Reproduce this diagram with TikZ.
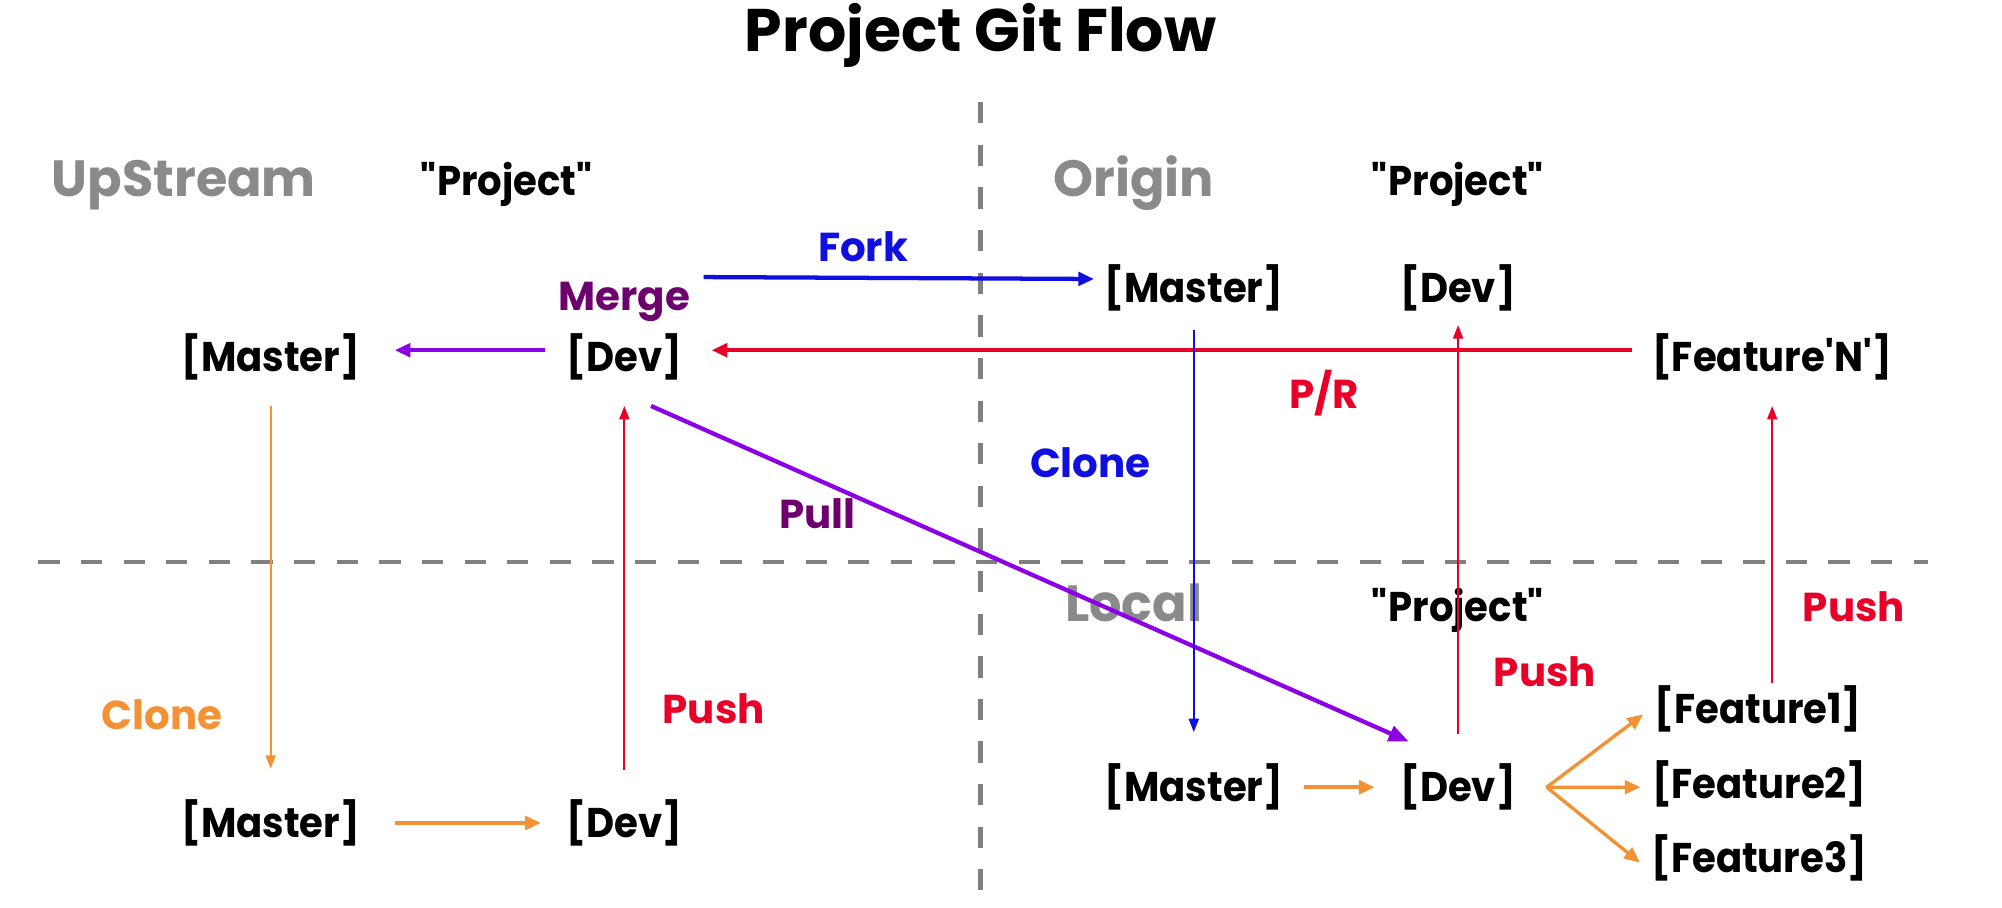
\documentclass[tikz,border=0pt]{standalone}
\usepackage{fontspec}
\setmainfont{Poppins}
\newfontfamily\narrowfont{Poppins}[FakeStretch=0.93]
\usetikzlibrary{arrows.meta, positioning}

\definecolor{repogray}{RGB}{138,138,138}
\definecolor{linegray}{RGB}{128,128,128}
\definecolor{forkblue}{RGB}{15,15,225}
\definecolor{pushred}{RGB}{232,0,40}
\definecolor{cloneorange}{RGB}{242,146,52}
\definecolor{pullviolet}{RGB}{140,0,230}
\definecolor{mergepurple}{RGB}{110,0,110}

\begin{document}
\begin{tikzpicture}[
        % one unit = one pixel of the screen, y runs down
        x=0.02cm, y=-0.02cm,
        % Branches: black bold words in brackets
        branch/.style = {inner sep=0pt, anchor=base, text=black,
                         font=\narrowfont\fontsize{18.5}{20}\selectfont\bfseries},
        % Repositories: large grey words
        repo/.style = {inner sep=0pt, anchor=base, text=repogray,
                       font=\fontsize{22.7}{25}\selectfont\bfseries},
        % Edge labels: coloured like their arrow
        edge_lbl/.style = {inner sep=0pt, anchor=base,
                           font=\fontsize{18}{20}\selectfont\bfseries},
        % Arrows: thick ones between repos, thin ones up and down
        thick_arrow/.style = {draw, line width=1.9pt, -{Triangle[length=7pt, width=6pt]}},
        thin_arrow/.style = {draw, line width=0.9pt, -{Triangle[length=6pt, width=4.5pt]}},
        divider/.style = {draw=linegray, line width=2pt, dash pattern=on 9.5pt off 9.5pt}
    ]

    \useasboundingbox (0,0) rectangle (1568,711);
    \fill[white] (0,0) rectangle (1568,711);

    % --- Title ---
    \node[edge_lbl, font=\fontsize{26.8}{29}\selectfont\bfseries] (title) at (768,40) {Project Git Flow};

    % --- Dividers between the three repositories ---
    \draw[divider] (768,80) -- (768,697);
    \draw[divider] (30,440) -- (1510,440);

    % --- Repository names ---
    \node[repo] (upstream) at (144,154) {UpStream};
    \node[repo] (origin) at (888,154) {Origin};
    \node[repo] (local) at (888,487) {Local};
    \node[branch] (up_project) at (397,153) {\textquotedbl Project\textquotedbl};
    \node[branch] (or_project) at (1142,153) {\textquotedbl Project\textquotedbl};
    \node[branch] (lo_project) at (1142,487) {\textquotedbl Project\textquotedbl};

    % --- Branches ---
    \node[branch] (us_master) at (212,291) {[Master]};
    \node[branch] (us_dev) at (489,291) {[Dev]};
    \node[branch] (or_master) at (935,237) {[Master]};
    \node[branch] (or_dev) at (1142,237) {[Dev]};
    \node[branch] (feat_n) at (1388,291) {[Feature\textquotesingle N\textquotesingle]};
    \node[branch] (bl_master) at (212,656) {[Master]};
    \node[branch] (bl_dev) at (489,656) {[Dev]};
    \node[branch] (lo_master) at (935,628) {[Master]};
    \node[branch] (lo_dev) at (1142,628) {[Dev]};
    \node[branch] (feat_one) at (1377,567) {[Feature1]};
    \node[branch] (feat_two) at (1378,625) {[Feature2]};
    \node[branch] (feat_three) at (1378,683) {[Feature3]};

    % --- Edge labels ---
    \node[edge_lbl, text=forkblue] (fork_lbl) at (676,205) {Fork};
    \node[edge_lbl, text=mergepurple] (merge_lbl) at (489,243) {Merge};
    \node[edge_lbl, text=pushred] (pr_lbl) at (1037,320) {P/R};
    \node[edge_lbl, text=forkblue] (clone_lbl) at (854,374) {Clone};
    \node[edge_lbl, text=mergepurple] (pull_lbl) at (640,414) {Pull};
    \node[edge_lbl, text=cloneorange] (us_clone_lbl) at (127,571) {Clone};
    \node[edge_lbl, text=pushred] (us_push_lbl) at (559,567) {Push};
    \node[edge_lbl, text=pushred] (lo_push_lbl) at (1210,538) {Push};
    \node[edge_lbl, text=pushred] (feat_push_lbl) at (1452,487) {Push};

    \coordinate (fork_start) at (551,217);
    \coordinate (split) at ([xshift=13.6pt]lo_dev.east);

    % --- Edges (Arrows) ---
    % Between the repositories
    \draw[thick_arrow, forkblue, shorten >=4.5pt] (fork_start) -- ([yshift=4pt]or_master.west);
    \draw[thick_arrow, pullviolet, shorten <=9.6pt, shorten >=15.3pt]
        ([yshift=3pt]us_dev.west) -- ([yshift=3pt]us_master.east);
    \draw[thick_arrow, pushred, shorten <=9pt, shorten >=13pt]
        ([yshift=3pt]feat_n.west) -- ([yshift=3pt]us_dev.east);
    \draw[thick_arrow, pullviolet, -{Triangle[length=9pt, width=7pt]}, shorten <=13pt, shorten >=24pt]
        ([yshift=-6pt]us_dev.south) -- (lo_dev.north);

    % Up and down
    \draw[thin_arrow, forkblue, shorten <=8pt, shorten >=14pt] (or_master.south) -- (lo_master.north);
    \draw[thin_arrow, pushred, shorten <=13pt, shorten >=6pt] (lo_dev.north) -- (or_dev.south);
    \draw[thin_arrow, pushred, shorten <=1pt, shorten >=11.3pt] (feat_one.north -| feat_n.south) -- (feat_n.south);
    \draw[thin_arrow, cloneorange, shorten <=11.3pt, shorten >=13.6pt] (us_master.south) -- (bl_master.north);
    \draw[thin_arrow, pushred, shorten <=13pt, shorten >=11.3pt] (bl_dev.north) -- (us_dev.south);

    % Inside the local copies
    \draw[thick_arrow, cloneorange, shorten <=15.3pt, shorten >=11.3pt] (bl_master.east) -- (bl_dev.west);
    \draw[thick_arrow, cloneorange, shorten <=9pt, shorten >=11.3pt] (lo_master.east) -- (lo_dev.west);
    \draw[thick_arrow, cloneorange, line width=1.5pt] (split) -- ([xshift=-5pt, yshift=-2.3pt]feat_one.west);
    \draw[thick_arrow, cloneorange, line width=1.5pt] (split) -- ([xshift=-5pt, yshift=-1.7pt]feat_two.west);
    \draw[thick_arrow, cloneorange, line width=1.5pt] (split) -- ([xshift=-5pt, yshift=-2.3pt]feat_three.west);

\end{tikzpicture}
\end{document}
